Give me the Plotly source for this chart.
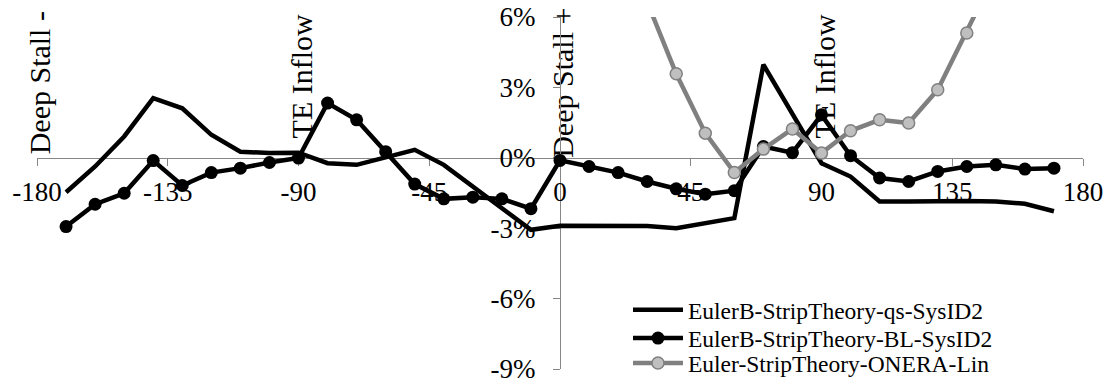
import plotly.graph_objects as go

# Angle of attack (deg) shared by the two EulerB strip-theory series
angle = list(range(-170, 180, 10))

# Relative deviation (%) per angle
qs_sysid2 = [-1.47, -0.37, 0.91, 2.54, 2.11, 0.98, 0.26, 0.20, 0.22, -0.23,
             -0.30, 0.04, 0.34, -0.30, -1.22, -2.13, -3.07, -2.90, -2.89, -2.89,
             -2.91, -3.00, -2.78, -2.57, 3.97, 1.90, -0.23, -0.80, -1.86, -1.86,
             -1.84, -1.84, -1.86, -1.96, -2.28]
bl_sysid2 = [-2.93, -1.98, -1.51, -0.12, -1.18, -0.63, -0.44, -0.20, -0.01, 2.33,
             1.62, 0.26, -1.12, -1.75, -1.68, -1.75, -2.17, -0.11, -0.37, -0.63,
             -1.01, -1.32, -1.55, -1.40, 0.48, 0.22, 1.83, 0.09, -0.86, -1.01,
             -0.58, -0.37, -0.30, -0.48, -0.44]

onera_angle = list(range(30, 160, 10))
onera_lin = [6.64, 3.58, 1.05, -0.63, 0.37, 1.23, 0.20, 1.15, 1.62, 1.48,
             2.90, 5.32, 7.90]

series_names = ["EulerB-StripTheory-qs-SysID2",
                "EulerB-StripTheory-BL-SysID2",
                "Euler-StripTheory-ONERA-Lin"]

X_RANGE = [-180, 180]
Y_RANGE = [-9, 6]
x_ticks = [-180, -135, -90, -45, 0, 45, 90, 135, 180]
x_ticktext = ["-180", "-135", "-90", "-45", "0", "45", "90", "135", "180"]
y_ticks = [-9, -6, -3, 0, 3, 6]
y_ticktext = ["-9%", "-6%", "-3%", "0%", "3%", "6%"]

# Regime markers along the angle axis (vertical labels, drawn under the curves)
regime_angle = [-180, -90, 0, 90]
regime_text = ["Deep Stall -", "TE Inflow", "Deep Stall +", "TE Inflow"]
regime_y = [3.2, 3.47, 3.2, 3.47]

FONT = "'Liberation Serif', 'Times New Roman', 'DejaVu Serif', serif"
AXIS_GREY = "#868686"
LINE_GREY = "#808080"

fig = go.Figure()
fig.add_trace(go.Scatter(
    x=angle, y=qs_sysid2, mode="lines", name=series_names[0],
    line=dict(color="black", width=4.5), legend="legend", showlegend=True))
fig.add_trace(go.Scatter(
    x=angle, y=bl_sysid2, mode="lines+markers", name=series_names[1],
    line=dict(color="black", width=4.5),
    marker=dict(color="black", size=13), legend="legend2", showlegend=True))
fig.add_trace(go.Scatter(
    x=onera_angle, y=onera_lin, mode="lines+markers", name=series_names[2],
    line=dict(color=LINE_GREY, width=4.5),
    marker=dict(color="#bfbfbf", size=12, line=dict(color=LINE_GREY, width=1.5)),
    legend="legend3", showlegend=True))


def to_paper(v, rng):
    return (v - rng[0]) / (rng[1] - rng[0])


for a, t, yv in zip(regime_angle, regime_text, regime_y):
    px, py = to_paper(a, X_RANGE), to_paper(yv, Y_RANGE)
    fig.add_shape(type="rect", xref="paper", yref="paper",
                  x0=px - 0.002, x1=px + 0.002, y0=py - 0.002, y1=py + 0.002,
                  line=dict(width=0), fillcolor="rgba(0,0,0,0)", layer="below",
                  label=dict(text=t, textangle=-90, textposition="middle center",
                             font=dict(family=FONT, size=30, color="black")))

axis_common = dict(
    showline=True, linecolor=AXIS_GREY, linewidth=1.3,
    ticks="outside", ticklen=7, tickcolor=AXIS_GREY, tickwidth=1.3,
    showgrid=False, zeroline=False, anchor="free", layer="below traces",
    automargin=False,
    tickfont=dict(family=FONT, size=27, color="black"))

fig.update_layout(
    width=1114, height=385,
    margin=dict(l=37, r=31, t=17, b=16, autoexpand=False),
    paper_bgcolor="white", plot_bgcolor="rgba(0,0,0,0)",
    showlegend=True,
    font=dict(family=FONT, color="black"),
    xaxis=dict(range=X_RANGE, tickvals=x_ticks, ticktext=x_ticktext,
               position=to_paper(0, Y_RANGE), ticklabelstandoff=3, **axis_common),
    yaxis=dict(range=Y_RANGE, tickvals=y_ticks, ticktext=y_ticktext,
               position=to_paper(0, X_RANGE), ticklabelstandoff=12, **axis_common),
)

legend_rows = [0.1676, 0.0872, 0.0162]
for key, ly in zip(["legend", "legend2", "legend3"], legend_rows):
    fig.update_layout({key: dict(
        x=0.565, y=ly, xanchor="left", yanchor="middle",
        bgcolor="rgba(0,0,0,0)", borderwidth=0, itemwidth=50,
        font=dict(family=FONT, size=23.5, color="black"))})

fig.write_html("out.html")
